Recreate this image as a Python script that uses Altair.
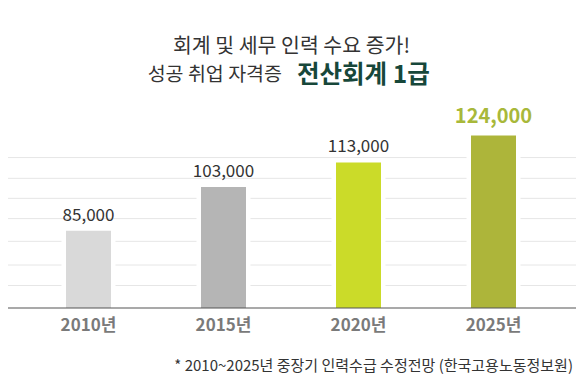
import altair as alt
import pandas as pd

YEARS = ["2010년", "2015년", "2020년", "2025년"]
VALUES = [85000, 103000, 113000, 124000]
BAR_COLORS = ["#d9d9d9", "#b5b5b5", "#cbdb29", "#adb53a"]
GRID_VALUES = [62600, 71000, 80700, 90000, 98300, 106500, 115000]
Y_MIN = 53400
Y_MAX = 176250

TITLE1 = "회계 및 세무 인력 수요 증가!"
TITLE2A = "성공 취업 자격증"
TITLE2B = "전산회계 1급"
NOTE = "* 2010~2025년 중장기 인력수급 수정전망 (한국고용노동정보원)"
HIGHLIGHT = "2025년"

FONT = "Noto Sans CJK KR"
W, H = 568, 300

df = pd.DataFrame({"year": YEARS, "value": VALUES, "color": BAR_COLORS})

yscale = alt.Scale(domain=[Y_MIN, Y_MAX], zero=False, nice=False)
xs = alt.X("year:N", sort=YEARS, axis=None,
           scale=alt.Scale(paddingInner=0.6667, paddingOuter=0.437, align=0.4915))
ys = alt.Y("value:Q", axis=None, scale=yscale)

base = alt.Chart(df)

grid = alt.Chart(pd.DataFrame({"g": GRID_VALUES})).mark_rule(
    color="#e6e6e6", strokeWidth=1
).encode(y=alt.Y("g:Q", axis=None, scale=yscale))

halo = base.mark_bar(color="white", stroke="white", strokeWidth=9).encode(
    x=xs, y=ys, y2=alt.datum(Y_MIN))

bars = base.mark_bar().encode(
    x=xs, y=ys, y2=alt.datum(Y_MIN),
    color=alt.Color("color:N", scale=None))

axis_line = alt.Chart(pd.DataFrame({"b": [Y_MIN]})).mark_rule(
    color="#555555", strokeWidth=1.2
).encode(y=alt.Y("b:Q", axis=None, scale=yscale))

labels = base.transform_filter(alt.datum.year != HIGHLIGHT).mark_text(
    baseline="middle", dy=-15, fontSize=17, font=FONT, color="#333333"
).encode(x=xs, y=ys, text=alt.Text("value:Q", format=","))

hl_label = base.transform_filter(alt.datum.year == HIGHLIGHT).mark_text(
    baseline="middle", dy=-18.5, fontSize=20, fontWeight="bold", font=FONT, color="#a8b83a"
).encode(x=xs, y=ys, text=alt.Text("value:Q", format=","))

xlabels = base.mark_text(
    baseline="middle", fontSize=17, fontWeight="bold", font=FONT, color="#7a7a7a"
).encode(x=xs, y=alt.value(318), text="year:N")

t1 = alt.Chart(pd.DataFrame({"t": [TITLE1]})).mark_text(
    align="center", baseline="middle", fontSize=20.5, font=FONT, color="#333333"
).encode(x=alt.value(283.5), y=alt.value(39), text="t:N")

t2a = alt.Chart(pd.DataFrame({"t": [TITLE2A]})).mark_text(
    align="right", baseline="alphabetic", fontSize=19.5, font=FONT, color="#333333"
).encode(x=alt.value(274), y=alt.value(72.5), text="t:N")

t2b = alt.Chart(pd.DataFrame({"t": [TITLE2B]})).mark_text(
    align="left", baseline="alphabetic", fontSize=24.5, fontWeight="bold", font=FONT, color="#17473a"
).encode(x=alt.value(289), y=alt.value(75), text="t:N")

note = alt.Chart(pd.DataFrame({"t": [NOTE]})).mark_text(
    align="right", baseline="middle", fontSize=15, font=FONT, color="#333333"
).encode(x=alt.value(565), y=alt.value(358), text="t:N")

chart = alt.layer(grid, halo, bars, axis_line, labels, hl_label, xlabels, t1, t2a, t2b, note).properties(
    width=W, height=H,
    autosize=alt.AutoSizeParams(type="none"),
    padding={"left": 0, "top": 0, "right": 0, "bottom": 69},
).configure_view(stroke=None)

chart.save("out.html", embed_options={"renderer": "svg", "actions": False})
